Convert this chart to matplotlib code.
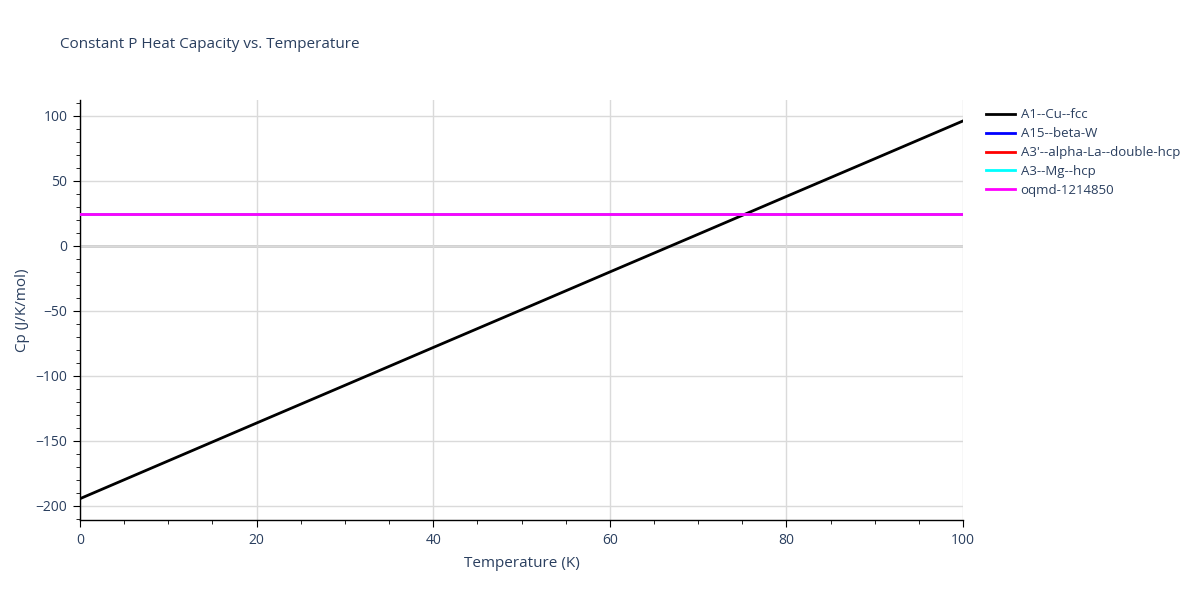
import matplotlib
matplotlib.use("Agg")
import matplotlib.pyplot as plt
from matplotlib.ticker import MultipleLocator

plt.rcParams['font.family'] = ['Open Sans', 'DejaVu Sans']

# temperature grid (K)
temps = [0, 10, 20, 30, 40, 50, 60, 70, 80, 90, 100]

# Cp values (J/K/mol)
cp_cu_fcc = [-194.4, -165.3, -136.2, -107.2, -78.1, -49.1, -20.0, 9.0, 38.1, 67.1, 96.2]
cp_beta_w = [24.9, 24.9, 24.9, 24.9, 24.9, 24.9, 24.9, 24.9, 24.9, 24.9, 24.9]
cp_alpha_la = [24.9, 24.9, 24.9, 24.9, 24.9, 24.9, 24.9, 24.9, 24.9, 24.9, 24.9]
cp_mg_hcp = [24.9, 24.9, 24.9, 24.9, 24.9, 24.9, 24.9, 24.9, 24.9, 24.9, 24.9]
cp_oqmd = [24.9, 24.9, 24.9, 24.9, 24.9, 24.9, 24.9, 24.9, 24.9, 24.9, 24.9]

series = [
    ("A1--Cu--fcc", cp_cu_fcc, "black"),
    ("A15--beta-W", cp_beta_w, "blue"),
    ("A3'--alpha-La--double-hcp", cp_alpha_la, "red"),
    ("A3--Mg--hcp", cp_mg_hcp, "cyan"),
    ("oqmd-1214850", cp_oqmd, "magenta"),
]

x_ticks = [0, 20, 40, 60, 80, 100]
y_ticks = [-200, -150, -100, -50, 0, 50, 100]

text_col = "#2a3f5f"
grid_col = "#dadada"

fig = plt.figure(figsize=(12, 6), dpi=100)
ax = fig.add_axes([80 / 1200, 1 - 520 / 600, 883 / 1200, 420 / 600])

for name, vals, col in series:
    ax.plot(temps, vals, color=col, lw=2, label=name, zorder=3)

ax.set_xlim(0, 100)
ax.set_ylim(-210.8, 112.3)
ax.set_xticks(x_ticks)
ax.set_xticklabels([str(v) for v in x_ticks])
ax.set_yticks(y_ticks)
ax.set_yticklabels([str(v).replace('-', '\u2212') for v in y_ticks])
ax.xaxis.set_minor_locator(MultipleLocator(5))
ax.yaxis.set_minor_locator(MultipleLocator(10))

ax.grid(True, which='major', color=grid_col, lw=1, zorder=0)
ax.axhline(0, color="#cccccc", lw=2, zorder=1)

for side in ['top', 'right']:
    ax.spines[side].set_visible(False)
for side in ['left', 'bottom']:
    ax.spines[side].set_color('black')
    ax.spines[side].set_linewidth(1)

ax.tick_params(which='major', length=5, color='black', labelcolor=text_col, labelsize=10, pad=4)
ax.tick_params(which='minor', length=3, color='black')

ax.set_xlabel("Temperature (K)", color=text_col, fontsize=11, labelpad=6)
ax.set_ylabel("Cp (J/K/mol)", color=text_col, fontsize=11, labelpad=4)

fig.text(60 / 1200, 1 - 45 / 600, "Constant P Heat Capacity vs. Temperature",
         color=text_col, fontsize=11, va='center', ha='left')

leg = ax.legend(loc='upper left', bbox_to_anchor=(981 / 1200, 1 - 103 / 600),
                bbox_transform=fig.transFigure, frameon=False, fontsize=9.5,
                handlelength=2.2, handletextpad=0.4, labelspacing=0.45,
                borderaxespad=0)
for t in leg.get_texts():
    t.set_color(text_col)

fig.savefig("out.png", dpi=100)
